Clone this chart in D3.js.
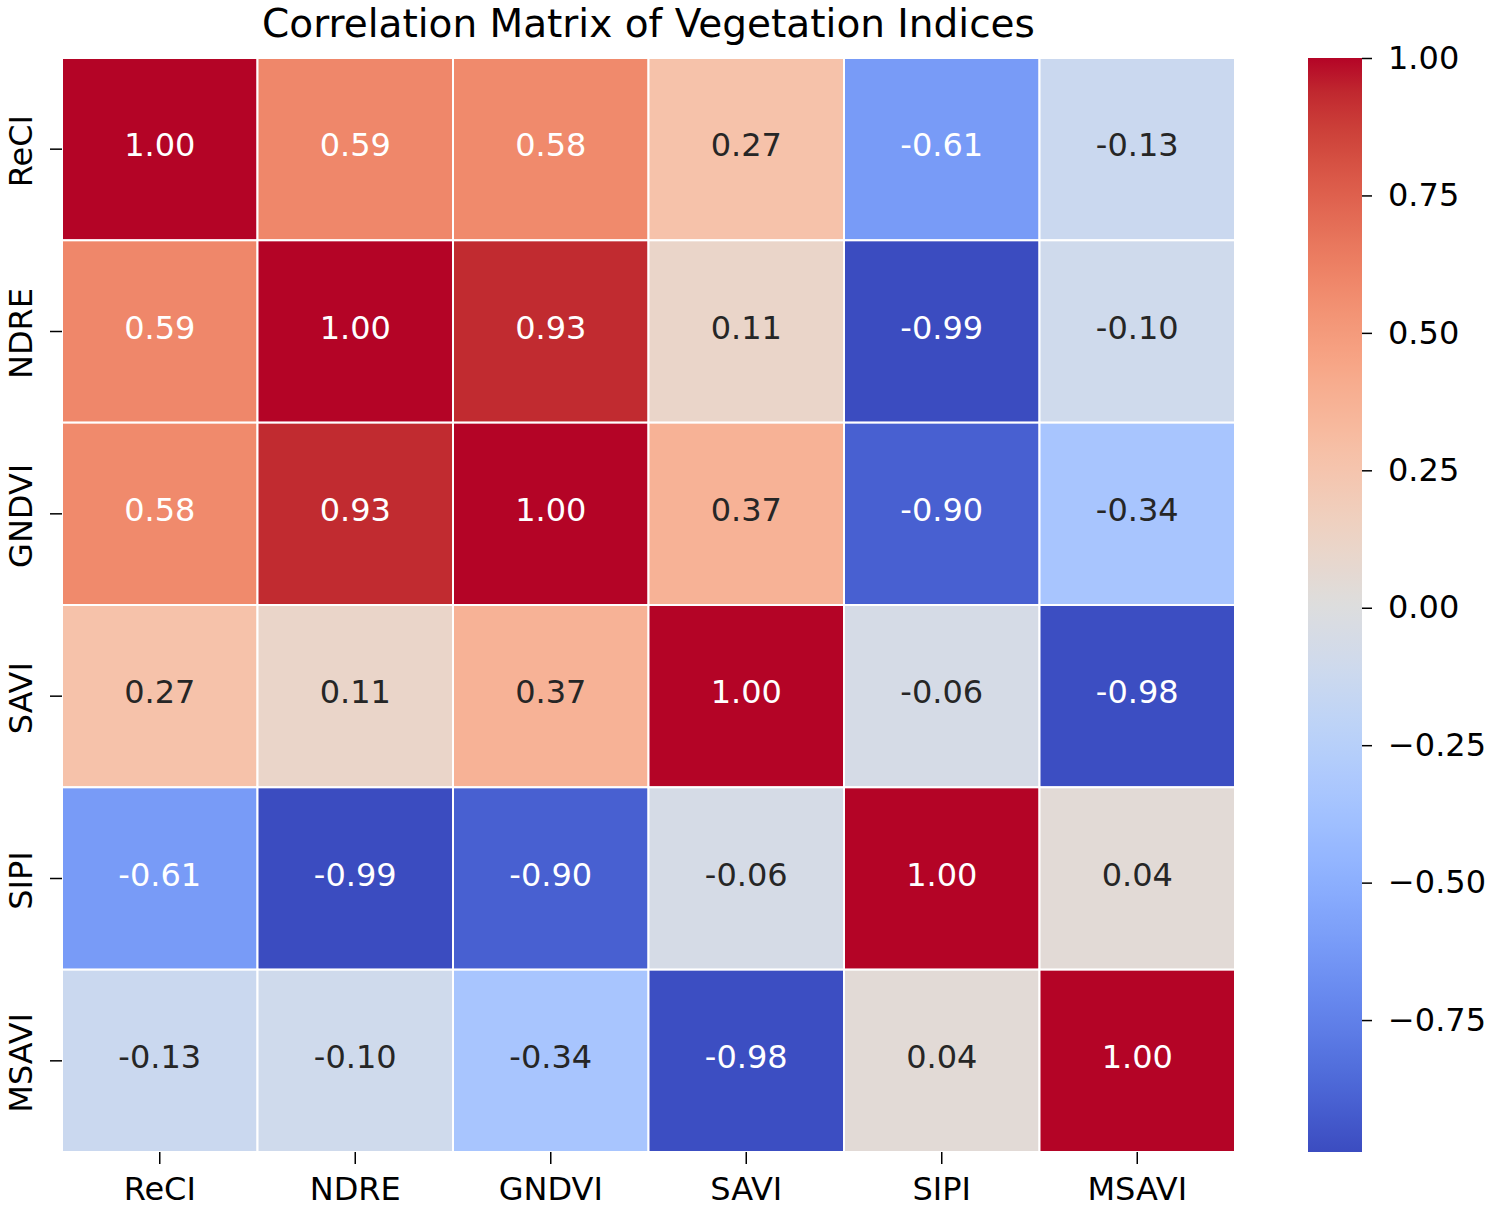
<!DOCTYPE html>
<html>
<head>
<meta charset="utf-8">
<script src="https://cdn.jsdelivr.net/npm/d3@7"></script>
<style>
  body { margin: 0; background: #fff; }
  text { font-family: "DejaVu Sans", sans-serif; }
</style>
</head>
<body>
<div id="chart"></div>
<script>
// data
var labels = ['ReCI', 'NDRE', 'GNDVI', 'SAVI', 'SIPI', 'MSAVI'];
var matrix = [
  [ 1.00,  0.59,  0.58,  0.27, -0.61, -0.13],
  [ 0.59,  1.00,  0.93,  0.11, -0.99, -0.10],
  [ 0.58,  0.93,  1.00,  0.37, -0.90, -0.34],
  [ 0.27,  0.11,  0.37,  1.00, -0.06, -0.98],
  [-0.61, -0.99, -0.90, -0.06,  1.00,  0.04],
  [-0.13, -0.10, -0.34, -0.98,  0.04,  1.00]
];
var cbarTicks = [1.00, 0.75, 0.50, 0.25, 0.00, -0.25, -0.50, -0.75];

// coolwarm stops (Moreland)
var coolwarm = [
  [59,76,192],[68,90,204],[77,104,215],[87,117,225],[98,130,234],[108,142,241],
  [119,154,247],[130,165,251],[141,176,254],[152,185,255],[163,194,255],[174,201,253],
  [184,208,249],[194,213,244],[204,217,238],[213,219,230],[221,221,221],[229,216,209],
  [236,211,197],[241,204,185],[245,196,173],[247,187,160],[247,177,148],[247,166,135],
  [244,154,123],[241,141,111],[236,127,99],[229,112,88],[222,96,77],[213,80,66],
  [203,62,56],[192,40,47],[180,4,38]
];

var width = 1488, height = 1207;
var m = { left: 62, right: 1235, top: 58, bottom: 1152 };

var vmin = d3.min(matrix, function(r){ return d3.min(r); });
var vmax = d3.max(matrix, function(r){ return d3.max(r); });

var cwInterp = d3.piecewise(d3.interpolateRgb, coolwarm.map(function(c){ return d3.rgb(c[0], c[1], c[2]); }));
var color = d3.scaleSequential(cwInterp).domain([vmin, vmax]);

var x = d3.scaleBand().domain(labels).range([m.left, m.right]);
var y = d3.scaleBand().domain(labels).range([m.top, m.bottom]);

var svg = d3.select('#chart').append('svg')
  .attr('width', width)
  .attr('height', height);

// cells
var cells = [];
matrix.forEach(function(row, i){
  row.forEach(function(v, j){ cells.push({ r: labels[i], c: labels[j], v: v }); });
});

svg.append('g').selectAll('rect')
  .data(cells)
  .enter().append('rect')
  .attr('x', function(d){ return x(d.c); })
  .attr('y', function(d){ return y(d.r); })
  .attr('width', x.bandwidth())
  .attr('height', y.bandwidth())
  .attr('fill', function(d){ return color(d.v); })
  .attr('stroke', '#fff')
  .attr('stroke-width', 2);

var lum = function(c){
  var rgb = d3.rgb(c);
  var f = function(u){ u = u / 255; return u <= 0.03928 ? u / 12.92 : Math.pow((u + 0.055) / 1.055, 2.4); };
  return 0.2126 * f(rgb.r) + 0.7152 * f(rgb.g) + 0.0722 * f(rgb.b);
};

svg.append('g').selectAll('text')
  .data(cells)
  .enter().append('text')
  .attr('x', function(d){ return x(d.c) + x.bandwidth() / 2; })
  .attr('y', function(d){ return y(d.r) + y.bandwidth() / 2 - 4; })
  .attr('text-anchor', 'middle')
  .attr('dominant-baseline', 'central')
  .attr('font-size', 32)
  .attr('fill', function(d){ return lum(color(d.v)) > 0.408 ? '#262626' : '#fff'; })
  .text(function(d){ return d.v.toFixed(2); });

// axes
var xAxis = svg.append('g')
  .attr('transform', 'translate(0,' + m.bottom + ')')
  .call(d3.axisBottom(x).tickSize(12).tickPadding(12));
xAxis.select('.domain').remove();
xAxis.selectAll('line').attr('stroke', '#000').attr('stroke-width', 1.5);
xAxis.selectAll('text').attr('font-size', 32).attr('fill', '#000')
  .attr('dy', '0.76em');

var yAxis = svg.append('g')
  .attr('transform', 'translate(' + m.left + ',0)')
  .call(d3.axisLeft(y).tickSize(12).tickPadding(0));
yAxis.select('.domain').remove();
yAxis.selectAll('line').attr('stroke', '#000').attr('stroke-width', 1.5);
yAxis.selectAll('text')
  .attr('font-size', 32).attr('fill', '#000')
  .attr('x', null).attr('dy', null)
  .attr('text-anchor', 'middle')
  .attr('transform', 'translate(-30,2) rotate(-90)');

// title
svg.append('text')
  .attr('x', (m.left + m.right) / 2)
  .attr('y', 37)
  .attr('text-anchor', 'middle')
  .attr('font-size', 39)
  .attr('fill', '#000')
  .text('Correlation Matrix of Vegetation Indices');

// colorbar
var cb = { x: 1308, w: 54 };
var cy = d3.scaleLinear().domain([vmin, vmax]).range([m.bottom, m.top]);

var defs = svg.append('defs');
var grad = defs.append('linearGradient')
  .attr('id', 'cw')
  .attr('x1', 0).attr('y1', 1).attr('x2', 0).attr('y2', 0);
grad.selectAll('stop')
  .data(d3.range(0, 1.0001, 1 / 64))
  .enter().append('stop')
  .attr('offset', function(d){ return d; })
  .attr('stop-color', function(d){ return cwInterp(d); });

svg.append('rect')
  .attr('x', cb.x)
  .attr('y', m.top)
  .attr('width', cb.w)
  .attr('height', m.bottom - m.top)
  .attr('fill', 'url(#cw)');

var cAxis = svg.append('g')
  .attr('transform', 'translate(' + (cb.x + cb.w) + ',0)')
  .call(d3.axisRight(cy).tickValues(cbarTicks).tickSize(10).tickPadding(16)
    .tickFormat(function(d){ return d3.format('.2f')(d).replace('-', '\u2212'); }));
cAxis.select('.domain').remove();
cAxis.selectAll('line').attr('stroke', '#000').attr('stroke-width', 1.5);
cAxis.selectAll('text').attr('font-size', 32).attr('fill', '#000');
</script>
</body>
</html>
